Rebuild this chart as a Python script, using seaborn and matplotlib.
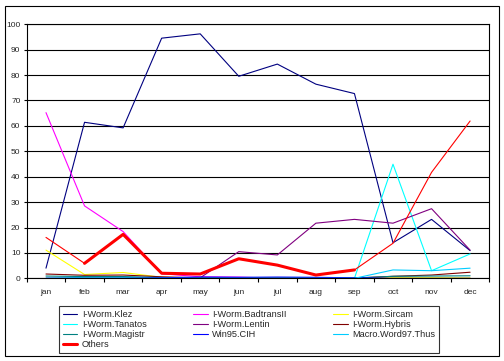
import numpy as np
import pandas as pd
import seaborn as sns
import matplotlib.pyplot as plt
from matplotlib.patches import Rectangle

# DATA (percent share per month)
months = ['jan', 'feb', 'mar', 'apr', 'may', 'jun', 'jul', 'aug', 'sep', 'oct', 'nov', 'dec']

klez = [4, 61.4, 59.2, 94.5, 96.2, 79.5, 84.3, 76.4, 72.7, 14, 23.2, 10.9]
badtrans = [65.2, 28.5, 18.4, 1.8, 0.6, 0.5, 0, 0, 0, 0, 0, 0]
sircam = [11.1, 1.5, 2.3, 0.4, 0.1, 0, 0, 0, 0, 0.3, 0.3, 0.2]
tanatos = [0, 0.4, 0.4, 0, 0, 0, 0, 0, 0, 44.9, 3, 9.6]
lentin = [0, 0, 0, 0, 0.2, 10.5, 9.2, 21.7, 23.2, 21.7, 27.4, 11.1]
hybris = [1.7, 1.2, 1.3, 0.6, 0.2, 0.1, 0.1, 0.1, 0.1, 0.8, 1.3, 2.4]
magistr = [0.9, 0.7, 0.7, 0.3, 0.2, 0.1, 0.1, 0.1, 0.1, 0.8, 0.9, 1.0]
cih = [0, 0, 0, 0.2, 0.5, 0.4, 0.5, 0.4, 0.2, 0, 0, 0]
thus = [0, 0, 0, 0, 0, 0, 0, 0, 0, 3.3, 3.0, 4.0]
others = [16.1, 5.9, 17.3, 2.0, 1.7, 7.7, 5.2, 1.3, 3.3, 13.8, 41.7, 61.9]

series_names = ['I-Worm.Klez', 'I-Worm.BadtransII', 'I-Worm.Sircam', 'I-Worm.Tanatos',
                'I-Worm.Lentin', 'I-Worm.Hybris', 'I-Worm.Magistr', 'Win95.CIH',
                'Macro.Word97.Thus', 'Others']
series_values = [klez, badtrans, sircam, tanatos, lentin, hybris, magistr, cih, thus, others]
series_colors = ['#000080', '#FF00FF', '#FFFF00', '#00FFFF', '#800080', '#800000',
                 '#008080', '#0000FF', '#00CCFF', '#FF0000']

# STYLE
sns.set_style('white')
plt.rcParams['font.family'] = ['Liberation Sans', 'DejaVu Sans']

fig = plt.figure(figsize=(5.04, 3.61), dpi=100)
ax = fig.add_axes([0.053, 0.229, 0.918, 0.704])

x = np.arange(len(months))
handles = []
for name, vals, col in zip(series_names, series_values, series_colors):
    lw = 2.2 if name == 'Others' else 0.8
    df = pd.DataFrame({'month': x, 'value': vals})
    if name == 'Others':
        # thin line everywhere, the thick part only covers feb..sep like the original
        sns.lineplot(data=df, x='month', y='value', color=col, linewidth=0.8, ax=ax, zorder=3)
        thick = df.copy()
        thick.loc[[0, 9, 10, 11], 'value'] = np.nan
        sns.lineplot(data=thick.dropna(), x='month', y='value', color=col, linewidth=lw, ax=ax, zorder=3)
    else:
        sns.lineplot(data=df, x='month', y='value', color=col, linewidth=lw, ax=ax, zorder=2)
    handles.append(plt.Line2D([], [], color=col, linewidth=lw))

# AXES
ax.set_xlim(-0.5, 11.5)
ax.set_ylim(0, 100)
ax.set_yticks(np.arange(0, 101, 10))
ax.set_xticks(x)
ax.set_xticklabels(months)
ax.set_xticks(np.arange(-0.5, 12, 1), minor=True)
ax.set_xlabel('')
ax.set_ylabel('')
ax.yaxis.grid(True, color='black', linewidth=0.8)
ax.set_axisbelow(True)
for sp in ax.spines.values():
    sp.set_color('black')
    sp.set_linewidth(0.8)
ax.tick_params(axis='x', which='major', length=0, pad=8, labelsize=6)
ax.tick_params(axis='x', which='minor', length=3, width=0.8, color='black', direction='out', bottom=True)
ax.tick_params(axis='y', length=2.5, width=0.8, color='black', direction='out', left=True, pad=2, labelsize=6)

# LEGEND (row-major order like the original -> reorder for column filling)
order = [0, 3, 6, 9, 1, 4, 7, 2, 5, 8]
leg = fig.legend([handles[i] for i in order], [series_names[i] for i in order],
                 ncol=3, loc='lower left', mode='expand',
                 bbox_to_anchor=(59 / 504, 1 - 353 / 361, 380 / 504, 48 / 361),
                 fontsize=6.6, frameon=True, fancybox=False, shadow=False,
                 handlelength=1.6, handletextpad=0.5, labelspacing=0.12,
                 borderpad=0.4, borderaxespad=0, columnspacing=1.0)
leg.get_frame().set_edgecolor('black')
leg.get_frame().set_linewidth(0.8)

# outer chart border
fig.patches.append(Rectangle((5 / 504, 1 - 355.7 / 361), 494 / 504, 350 / 361,
                             transform=fig.transFigure, fill=False,
                             edgecolor='black', linewidth=0.8))

plt.savefig('out.png', dpi=100, facecolor='white')
plt.close()
